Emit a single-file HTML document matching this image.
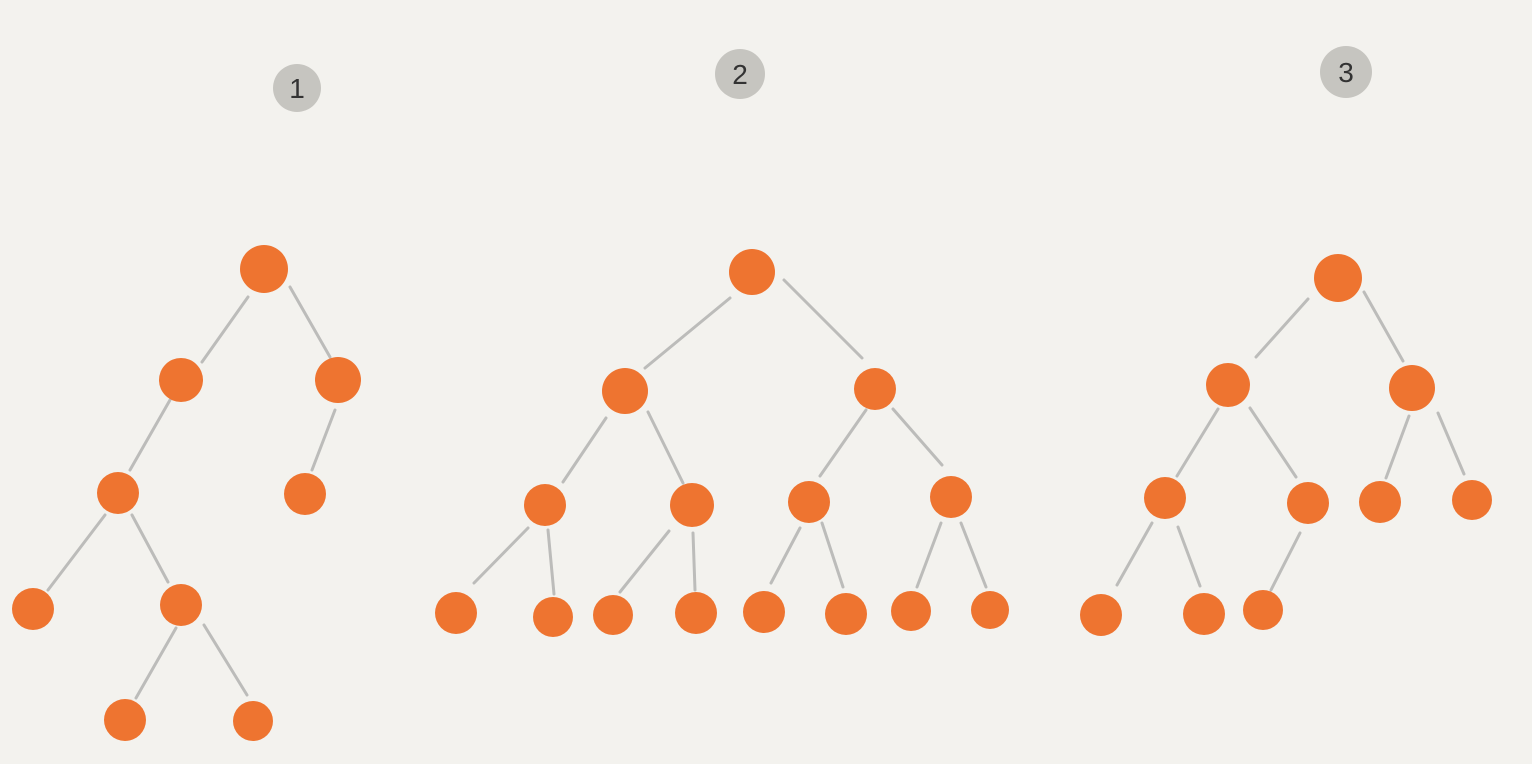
<!DOCTYPE html>
<html><head><meta charset="utf-8"><style>
html,body{margin:0;padding:0;background:#f3f2ee;}
svg{display:block;}
</style></head><body>
<svg width="1532" height="764" viewBox="0 0 1532 764" xmlns="http://www.w3.org/2000/svg">
<rect width="1532" height="764" fill="#f3f2ee"/>
<g stroke="#bcbcba" stroke-width="3" stroke-linecap="round">
<line x1="248" y1="297" x2="202" y2="362"/>
<line x1="290" y1="287" x2="330" y2="357"/>
<line x1="170" y1="400" x2="130" y2="470"/>
<line x1="335" y1="410" x2="312" y2="470"/>
<line x1="105" y1="515" x2="48" y2="590"/>
<line x1="132" y1="515" x2="168" y2="582"/>
<line x1="176" y1="628" x2="136" y2="698"/>
<line x1="204" y1="625" x2="247" y2="695"/>
<line x1="730" y1="298" x2="645" y2="368"/>
<line x1="784" y1="280" x2="862" y2="358"/>
<line x1="606" y1="418" x2="563" y2="482"/>
<line x1="648" y1="412" x2="683" y2="483"/>
<line x1="866" y1="410" x2="820" y2="476"/>
<line x1="893" y1="409" x2="942" y2="465"/>
<line x1="528" y1="528" x2="474" y2="583"/>
<line x1="548" y1="530" x2="554" y2="594"/>
<line x1="669" y1="531" x2="620" y2="592"/>
<line x1="693" y1="533" x2="695" y2="590"/>
<line x1="800" y1="528" x2="771" y2="583"/>
<line x1="822" y1="523" x2="843" y2="587"/>
<line x1="941" y1="523" x2="917" y2="587"/>
<line x1="961" y1="523" x2="986" y2="587"/>
<line x1="1308" y1="299" x2="1256" y2="357"/>
<line x1="1364" y1="292" x2="1403" y2="361"/>
<line x1="1218" y1="409" x2="1177" y2="476"/>
<line x1="1250" y1="408" x2="1296" y2="477"/>
<line x1="1409" y1="416" x2="1386" y2="478"/>
<line x1="1438" y1="413" x2="1464" y2="474"/>
<line x1="1152" y1="523" x2="1117" y2="585"/>
<line x1="1178" y1="527" x2="1200" y2="586"/>
<line x1="1300" y1="533" x2="1271" y2="590"/>
</g>
<g fill="#ee7430">
<circle cx="264" cy="269" r="24"/>
<circle cx="181" cy="380" r="22"/>
<circle cx="338" cy="380" r="23"/>
<circle cx="118" cy="493" r="21"/>
<circle cx="305" cy="494" r="21"/>
<circle cx="33" cy="609" r="21"/>
<circle cx="181" cy="605" r="21"/>
<circle cx="125" cy="720" r="21"/>
<circle cx="253" cy="721" r="20"/>
<circle cx="752" cy="272" r="23"/>
<circle cx="625" cy="391" r="23"/>
<circle cx="875" cy="389" r="21"/>
<circle cx="545" cy="505" r="21"/>
<circle cx="692" cy="505" r="22"/>
<circle cx="809" cy="502" r="21"/>
<circle cx="951" cy="497" r="21"/>
<circle cx="456" cy="613" r="21"/>
<circle cx="553" cy="617" r="20"/>
<circle cx="613" cy="615" r="20"/>
<circle cx="696" cy="613" r="21"/>
<circle cx="764" cy="612" r="21"/>
<circle cx="846" cy="614" r="21"/>
<circle cx="911" cy="611" r="20"/>
<circle cx="990" cy="610" r="19"/>
<circle cx="1338" cy="278" r="24"/>
<circle cx="1228" cy="385" r="22"/>
<circle cx="1412" cy="388" r="23"/>
<circle cx="1165" cy="498" r="21"/>
<circle cx="1308" cy="503" r="21"/>
<circle cx="1380" cy="502" r="21"/>
<circle cx="1472" cy="500" r="20"/>
<circle cx="1101" cy="615" r="21"/>
<circle cx="1204" cy="614" r="21"/>
<circle cx="1263" cy="610" r="20"/>
</g>
<g fill="#c6c5c0">
<circle cx="297" cy="88" r="24"/>
<circle cx="740" cy="74" r="25"/>
<circle cx="1346" cy="72" r="26"/>
</g>
<g font-family="Liberation Sans, sans-serif" font-size="28" fill="#333" text-anchor="middle">
<text x="297" y="98">1</text>
<text x="740" y="84">2</text>
<text x="1346" y="82">3</text>
</g>
</svg>
</body></html>
